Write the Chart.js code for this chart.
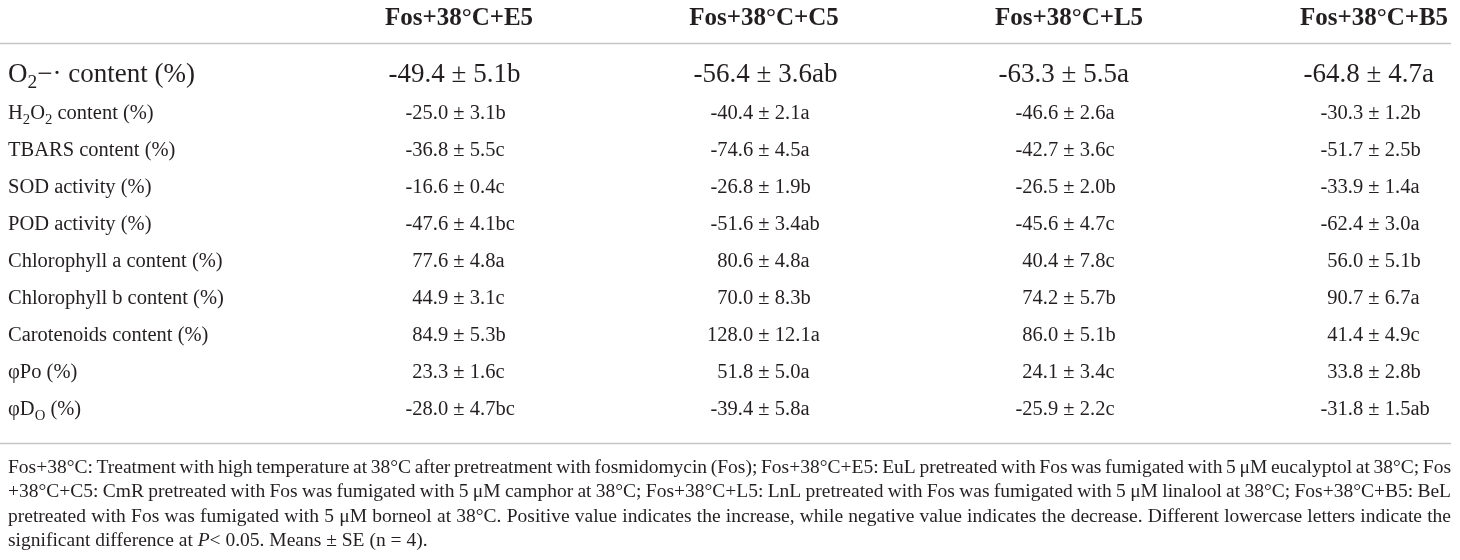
<!DOCTYPE html>
<html>
<head>
<meta charset="utf-8">
<title>Fos+38°C treatments</title>
<script src="https://cdn.jsdelivr.net/npm/chart.js@4.4.1/dist/chart.umd.min.js"></script>
<style>
  html, body { margin: 0; padding: 0; background: #ffffff; }
  #table-chart { display: block; }
</style>
</head>
<body>
<canvas id="table-chart" width="1460" height="560"></canvas>
<script>
// column headers (treatments)
const columns = ['Fos+38°C+E5', 'Fos+38°C+C5', 'Fos+38°C+L5', 'Fos+38°C+B5'];

// row labels, {..} is a subscript
const rows = ['O{2}−· content (%)', 'H{2}O{2} content (%)', 'TBARS content (%)', 'SOD activity (%)',
    'POD activity (%)', 'Chlorophyll a content (%)', 'Chlorophyll b content (%)',
    'Carotenoids content (%)', 'φPo (%)', 'φD{O} (%)'];

// mean, SE and significance letter per column
const e5Mean = [-49.4, -25.0, -36.8, -16.6, -47.6, 77.6, 44.9, 84.9, 23.3, -28.0];
const e5Se = [5.1, 3.1, 5.5, 0.4, 4.1, 4.8, 3.1, 5.3, 1.6, 4.7];
const e5Sig = ['b', 'b', 'c', 'c', 'bc', 'a', 'c', 'b', 'c', 'bc'];

const c5Mean = [-56.4, -40.4, -74.6, -26.8, -51.6, 80.6, 70.0, 128.0, 51.8, -39.4];
const c5Se = [3.6, 2.1, 4.5, 1.9, 3.4, 4.8, 8.3, 12.1, 5.0, 5.8];
const c5Sig = ['ab', 'a', 'a', 'b', 'ab', 'a', 'b', 'a', 'a', 'a'];

const l5Mean = [-63.3, -46.6, -42.7, -26.5, -45.6, 40.4, 74.2, 86.0, 24.1, -25.9];
const l5Se = [5.5, 2.6, 3.6, 2.0, 4.7, 7.8, 5.7, 5.1, 3.4, 2.2];
const l5Sig = ['a', 'a', 'c', 'b', 'c', 'c', 'b', 'b', 'c', 'c'];

const b5Mean = [-64.8, -30.3, -51.7, -33.9, -62.4, 56.0, 90.7, 41.4, 33.8, -31.8];
const b5Se = [4.7, 1.2, 2.5, 1.4, 3.0, 5.1, 6.7, 4.9, 2.8, 1.5];
const b5Sig = ['a', 'b', 'b', 'a', 'a', 'b', 'a', 'c', 'b', 'ab'];

// footnote lines, *..* is italic
const footnote = [
    'Fos+38°C: Treatment with high temperature at 38°C after pretreatment with fosmidomycin (Fos); Fos+38°C+E5: EuL pretreated with Fos was fumigated with 5 μM eucalyptol at 38°C; Fos',
    '+38°C+C5: CmR pretreated with Fos was fumigated with 5 μM camphor at 38°C; Fos+38°C+L5: LnL pretreated with Fos was fumigated with 5 μM linalool at 38°C; Fos+38°C+B5: BeL',
    'pretreated with Fos was fumigated with 5 μM borneol at 38°C. Positive value indicates the increase, while negative value indicates the decrease. Different lowercase letters indicate the',
    'significant difference at *P*< 0.05. Means ± SE (n = 4).'
];

const FONT = '"Liberation Serif", "DejaVu Serif", serif';
const INK = '#231f20';
const RULE = '#c6c6c6';

// layout: first column at 459px, 305px apart; first row baseline at 82px, 37px apart
const COL0 = 459, COL_GAP = 305;
const ROW0 = 82, ROW_GAP = 37;
const W = 1460, H = 560;
const HEADER_ROW = (25 - ROW0) / ROW_GAP;
const RULE_ROWS = [(43 - ROW0) / ROW_GAP, (443 - ROW0) / ROW_GAP];
const FOOT_Y = 473, FOOT_LEAD = 24.3, FOOT_SIZE = 19.5, LEFT = 8, RIGHT = 1451;

function rowSize(i) {
    return i === 0 ? 27 : 20.5;
}

function tokens(text) {
    return text.split(/(\{[^}]*\}|\*[^*]*\*)/).filter(t => t !== '').map(t => {
        if (t[0] === '{') return { s: t.slice(1, -1), sub: true };
        if (t[0] === '*') return { s: t.slice(1, -1), it: true };
        return { s: t };
    });
}

function setFont(ctx, tok, size, weight) {
    const sz = tok.sub ? size * 0.72 : size;
    ctx.font = (tok.it ? 'italic ' : '') + weight + ' ' + sz + 'px ' + FONT;
}

function richWidth(ctx, text, size, weight) {
    let w = 0;
    tokens(text).forEach(t => {
        setFont(ctx, t, size, weight);
        w += ctx.measureText(t.s).width;
    });
    return w;
}

function drawRich(ctx, text, x, y, size, weight) {
    ctx.textAlign = 'left';
    tokens(text).forEach(t => {
        setFont(ctx, t, size, weight);
        ctx.fillText(t.s, x, t.sub ? y + size * 0.24 : y);
        x += ctx.measureText(t.s).width;
    });
    return x;
}

// spread words so the line fills LEFT..RIGHT
function drawJustified(ctx, line, y, size) {
    const words = line.split(' ');
    const widths = words.map(w => richWidth(ctx, w, size, 'normal'));
    const sum = widths.reduce((a, b) => a + b, 0);
    ctx.font = size + 'px ' + FONT;
    const space = ctx.measureText(' ').width;
    let gap = (RIGHT - LEFT - sum) / (words.length - 1);
    let sx = 1;
    if (gap < space * 0.6) {
        sx = (RIGHT - LEFT) / (sum + space * (words.length - 1));
        gap = space;
    }
    ctx.save();
    ctx.translate(LEFT, 0);
    ctx.scale(sx, 1);
    let x = 0;
    words.forEach((w, k) => {
        drawRich(ctx, w, x, y, size, 'normal');
        x += widths[k] + gap;
    });
    ctx.restore();
}

const tablePlugin = {
    id: 'tableText',
    afterDatasetsDraw(chart) {
        const ctx = chart.ctx;
        const xs = chart.scales.x, ys = chart.scales.y;
        const area = chart.chartArea;
        ctx.save();
        ctx.fillStyle = INK;
        ctx.textBaseline = 'alphabetic';

        // horizontal rules
        ctx.strokeStyle = RULE;
        ctx.lineWidth = 1.5;
        RULE_ROWS.forEach(r => {
            const py = Math.round(ys.getPixelForValue(r)) + 0.5;
            ctx.beginPath();
            ctx.moveTo(area.left, py);
            ctx.lineTo(RIGHT, py);
            ctx.stroke();
        });

        // column headers
        ctx.font = 'bold 25px ' + FONT;
        ctx.textAlign = 'center';
        columns.forEach((c, j) => {
            ctx.fillText(c, xs.getPixelForValue(j + 1), ys.getPixelForValue(HEADER_ROW));
        });

        // row labels
        rows.forEach((r, i) => {
            drawRich(ctx, r, area.left + LEFT, ys.getPixelForValue(i), rowSize(i), 'normal');
        });

        // cells, lined up on the ± sign
        chart.data.datasets.forEach((ds, j) => {
            chart.getDatasetMeta(j).data.forEach((pt, i) => {
                const size = rowSize(i);
                ctx.font = size + 'px ' + FONT;
                const lead = ds.means[i].toFixed(1) + ' ';
                const txt = lead + '± ' + ds.ses[i].toFixed(1) + ds.sigs[i];
                const x0 = pt.x - ctx.measureText(lead).width - ctx.measureText('±').width / 2;
                ctx.textAlign = 'left';
                ctx.fillText(txt, x0, pt.y);
            });
        });

        // footnote
        footnote.forEach((line, k) => {
            const py = FOOT_Y + k * FOOT_LEAD;
            if (k < footnote.length - 1) {
                drawJustified(ctx, line, py, FOOT_SIZE);
            } else {
                drawRich(ctx, line, LEFT, py, FOOT_SIZE, 'normal');
            }
        });
        ctx.restore();
    }
};

const series = [
    [e5Mean, e5Se, e5Sig],
    [c5Mean, c5Se, c5Sig],
    [l5Mean, l5Se, l5Sig],
    [b5Mean, b5Se, b5Sig]
];

const datasets = series.map((s, j) => ({
    label: columns[j],
    data: rows.map((r, i) => ({ x: j + 1, y: i })),
    means: s[0],
    ses: s[1],
    sigs: s[2],
    pointRadius: 0,
    pointHoverRadius: 0,
    showLine: false
}));

new Chart(document.getElementById('table-chart'), {
    type: 'scatter',
    data: { datasets: datasets },
    options: {
        responsive: false,
        animation: false,
        devicePixelRatio: 1,
        layout: { padding: 0 },
        events: [],
        plugins: {
            legend: { display: false },
            tooltip: { enabled: false }
        },
        scales: {
            x: {
                type: 'linear',
                display: false,
                min: 1 - COL0 / COL_GAP,
                max: 1 - COL0 / COL_GAP + W / COL_GAP
            },
            y: {
                type: 'linear',
                display: false,
                reverse: true,
                min: -ROW0 / ROW_GAP,
                max: (H - ROW0) / ROW_GAP
            }
        }
    },
    plugins: [tablePlugin]
});
</script>
</body>
</html>
